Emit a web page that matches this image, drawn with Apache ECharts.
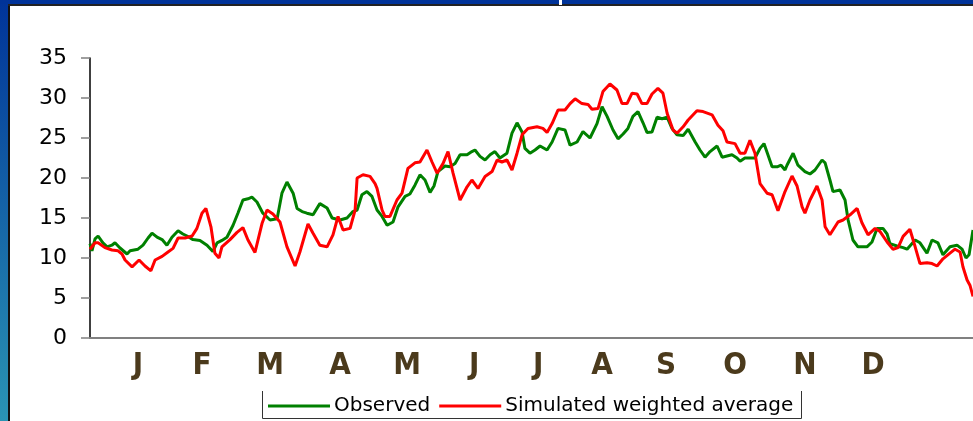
<!DOCTYPE html>
<html>
<head>
<meta charset="utf-8">
<script src="https://cdn.jsdelivr.net/npm/echarts@6/dist/echarts.min.js"></script>
<style>
html,body{margin:0;padding:0;background:#fff;}
#chart{width:973px;height:421px;}
</style>
</head>
<body>
<div id="chart"></div>
<script>
// Day of year (0 = 1 January) and temperature values
const obsDay = [0,0.9,2.3,3.7,5.9,7.8,10.0,11.4,13.7,16.9,18.3,21.9,24.2,26.5,28.3,30.6,32.9,35.1,37.4,40.2,42.4,44.3,47.0,50.2,53.4,56.1,58.0,60.2,62.5,65.3,67.5,69.8,72.1,73.9,76.2,78.9,82.2,85.4,87.6,89.9,92.7,94.5,96.8,99.0,101.8,104.9,108.2,110.5,114.1,117.3,120.0,121.9,124.1,126.4,128.7,131.0,133.3,135.6,138.3,140.6,143.8,146.0,148.3,150.6,152.9,155.2,157.0,158.8,162.0,164.3,166.6,168.9,172.1,174.3,175.7,178.0,180.3,182.6,184.8,187.1,190.3,192.6,194.9,197.2,198.5,200.8,203.1,205.4,208.6,210.9,213.6,216.8,219.1,222.3,225.0,228.2,231.4,233.7,236.0,238.7,241.0,243.3,245.5,247.8,250.1,252.4,254.2,256.5,258.8,261.1,263.4,265.6,267.9,270.7,273.0,276.2,278.4,280.7,283.0,286.2,288.5,290.7,293.0,295.3,296.7,298.9,301.2,303.5,305.8,307.6,309.4,311.3,313.6,315.4,317.2,318.1,320.9,323.1,326.3,328.6,330.9,334.1,335.5,337.7,339.1,342.3,344.6,346.0,348.2,350.5,354.6,356.9,359.2,361.9,363.8,365.1,368.3,371.1,372.9,376.6,378.8,382.0,384.3,387.0,389.3,392.5,395.7,398.0,399.8,401.2,403.0];
const obsTemp = [11.8,10.9,12.4,12.75,11.9,11.4,11.6,11.9,11.25,10.5,10.9,11.1,11.6,12.5,13.1,12.6,12.3,11.6,12.6,13.4,13.0,12.75,12.3,12.2,11.6,10.8,11.9,12.2,12.6,14.1,15.6,17.25,17.4,17.6,17.0,15.6,14.75,14.9,18.1,19.5,18.1,16.2,15.8,15.6,15.4,16.8,16.25,15.0,14.75,15.0,15.8,16.0,17.9,18.3,17.7,16.0,15.2,14.1,14.5,16.4,17.7,18.0,19.1,20.4,19.75,18.2,19.0,20.8,21.5,21.4,21.8,22.9,22.9,23.3,23.5,22.7,22.25,22.9,23.3,22.5,23.1,25.6,26.9,25.75,23.7,23.1,23.5,24.0,23.5,24.5,26.2,26.0,24.1,24.5,25.8,25.0,26.8,28.9,27.7,26.0,24.9,25.5,26.2,27.7,28.3,26.9,25.7,25.75,27.6,27.4,27.6,26.2,25.4,25.3,26.1,24.5,23.5,22.6,23.3,24.0,22.6,22.75,22.9,22.5,22.1,22.5,22.5,22.5,23.7,24.3,22.9,21.4,21.4,21.6,21.0,21.6,23.1,21.6,20.8,20.5,21.0,22.25,21.9,19.75,18.3,18.5,17.25,14.75,12.25,11.4,11.4,12.0,13.7,13.7,13.0,11.8,11.5,11.3,11.1,12.25,11.9,10.6,12.25,11.9,10.4,11.4,11.6,11.1,10.0,10.4,13.5];

const simDay = [0,2.3,3.7,6.8,10.0,12.8,14.6,16.0,19.2,22.4,25.1,27.8,29.7,32.9,35.6,37.9,40.2,43.4,46.6,48.8,51.1,52.9,55.2,57.0,58.9,60.2,63.9,67.1,69.8,72.1,75.3,78.5,80.8,83.5,86.7,89.9,93.6,95.8,99.5,101.8,104.9,108.2,110.9,113.2,115.5,118.7,121.0,121.9,124.6,127.8,130.1,131.0,133.3,134.6,136.9,140.1,142.4,145.1,148.3,150.6,153.8,156.1,158.4,161.1,163.4,165.7,168.9,172.1,174.3,177.1,180.3,183.5,185.8,188.0,190.3,192.6,194.9,197.2,199.9,204.0,206.7,208.6,210.9,213.6,216.8,219.1,221.4,224.5,227.3,229.1,231.9,234.1,237.3,240.5,242.8,245.1,247.4,249.7,251.9,254.2,256.5,259.2,261.5,263.4,266.1,267.9,270.7,273.0,277.0,279.8,283.9,286.6,288.9,290.7,294.4,296.7,298.9,301.2,303.5,305.8,309.0,311.3,314.0,317.2,320.4,322.7,325.0,326.3,328.6,331.8,334.1,335.5,337.7,341.4,343.7,346.9,350.1,352.3,355.1,358.3,360.6,363.8,366.5,368.8,371.1,374.2,376.6,378.8,382.0,384.3,386.6,389.3,392.5,394.8,397.1,398.4,400.3,401.6,403.0];
const simTemp = [11.1,11.9,11.9,11.3,11.0,10.9,10.5,9.75,8.9,9.75,9.0,8.4,9.75,10.2,10.75,11.2,12.5,12.5,12.75,13.7,15.6,16.2,13.9,10.6,10.0,11.4,12.3,13.2,13.8,12.25,10.7,14.3,16.0,15.5,14.5,11.4,9.0,10.75,14.25,13.1,11.6,11.4,12.9,15.2,13.5,13.7,16.0,20.0,20.4,20.2,19.3,18.7,16.0,15.2,15.2,17.25,18.1,21.2,21.9,22.0,23.5,22.0,20.6,21.8,23.3,20.6,17.25,18.9,19.75,18.7,20.2,20.8,22.25,22.0,22.25,21.0,23.1,25.4,26.2,26.4,26.2,25.7,26.8,28.5,28.5,29.3,29.9,29.3,29.2,28.6,28.7,30.8,31.75,31.0,29.3,29.3,30.6,30.5,29.3,29.3,30.5,31.2,30.6,28.1,26.0,25.6,26.4,27.25,28.4,28.3,27.9,26.6,25.9,24.5,24.3,23.1,23.1,24.7,23.1,19.3,18.1,17.9,15.9,18.3,20.25,19.0,16.4,15.6,17.25,19.0,17.25,13.9,12.9,14.5,14.75,15.4,16.2,14.4,12.9,13.7,13.3,12.0,11.1,11.3,12.7,13.6,11.4,9.3,9.4,9.3,9.0,9.9,10.6,11.1,10.75,8.9,7.25,6.6,5.2];

const monthLabels = ['J','F','M','A','M','J','J','A','S','O','N','D'];
const monthLabelDay = [21.9,51.1,82.2,114.1,144.7,175.3,204.5,233.7,262.9,294.4,326.3,357.4];
const seriesNames = ['Observed','Simulated weighted average'];
const seriesColors = ['#008000','#ff0000'];
const yMin = 0, yMax = 35, yStep = 5;
const xMin = 0, xMax = 403;

const chart = echarts.init(document.getElementById('chart'), null, {renderer:'canvas'});

const option = {
  animation: false,
  backgroundColor: '#ffffff',
  grid: {left: 90, right: 0, top: 58, bottom: 83, containLabel: false},
  legend: {
    data: seriesNames.map(n => ({name: n, icon: 'rect'})),
    left: 268, top: 396,
    padding: 0,
    itemWidth: 62, itemHeight: 3, itemGap: 9,
    textStyle: {fontFamily: 'DejaVu Sans', fontSize: 20, color: '#000', padding: [0,0,0,-1]}
  },
  xAxis: [
    {
      type: 'value', min: xMin, max: xMax,
      axisLine: {show: true, lineStyle: {color: '#808080', width: 2}},
      axisTick: {show: false}, axisLabel: {show: false}, splitLine: {show: false}
    },
    {
      type: 'value', min: xMin, max: xMax, position: 'bottom',
      axisLine: {show: false}, axisTick: {show: false}, splitLine: {show: false},
      axisLabel: {
        show: true,
        customValues: monthLabelDay,
        formatter: function (v) { const i = monthLabelDay.indexOf(v); return i >= 0 ? monthLabels[i] : ''; },
        fontFamily: "'Liberation Sans Narrow', 'DejaVu Sans Condensed', sans-serif",
        fontWeight: 'bold', fontSize: 31, color: '#4b3a1c',
        verticalAlign: 'middle', margin: 28
      }
    }
  ],
  yAxis: {
    type: 'value', min: yMin, max: yMax, interval: yStep,
    axisLine: {show: true, lineStyle: {color: '#000', width: 1.5}},
    axisTick: {show: true, inside: false, length: 9, lineStyle: {color: '#808080', width: 1.5}},
    axisLabel: {fontFamily: 'DejaVu Sans', fontSize: 22, color: '#000', margin: 23},
    splitLine: {show: false}
  },
  series: [
    {
      name: seriesNames[0], type: 'line', xAxisIndex: 0,
      data: obsDay.map((d, i) => [d, obsTemp[i]]),
      showSymbol: false, symbol: 'none',
      lineStyle: {color: seriesColors[0], width: 3},
      itemStyle: {color: seriesColors[0]}, z: 2
    },
    {
      name: seriesNames[1], type: 'line', xAxisIndex: 0,
      data: simDay.map((d, i) => [d, simTemp[i]]),
      showSymbol: false, symbol: 'none',
      lineStyle: {color: seriesColors[1], width: 3},
      itemStyle: {color: seriesColors[1]}, z: 3
    }
  ],
  graphic: [
    {type: 'rect', shape: {x: 0, y: 0, width: 8, height: 421}, silent: true, z: 100,
     style: {fill: new echarts.graphic.LinearGradient(0, 0, 0, 1, [{offset: 0, color: '#003399'}, {offset: 1, color: '#2a94b4'}])}},
    {type: 'rect', shape: {x: 8, y: 0, width: 2, height: 421}, silent: true, z: 100, style: {fill: '#111'}},
    {type: 'rect', shape: {x: 0, y: 0, width: 973, height: 4}, silent: true, z: 100, style: {fill: '#003399'}},
    {type: 'rect', shape: {x: 8, y: 4, width: 965, height: 2}, silent: true, z: 100, style: {fill: '#222'}},
    {type: 'rect', shape: {x: 559, y: 0, width: 3, height: 5}, silent: true, z: 101, style: {fill: '#ffffff'}},
    {type: 'polyline', shape: {points: [[262.5, 391], [262.5, 418.5], [801.5, 418.5], [801.5, 391]]}, silent: true, z: 100,
     style: {stroke: '#333', lineWidth: 1, fill: null}}
  ]
};
chart.setOption(option);
</script>
</body>
</html>
